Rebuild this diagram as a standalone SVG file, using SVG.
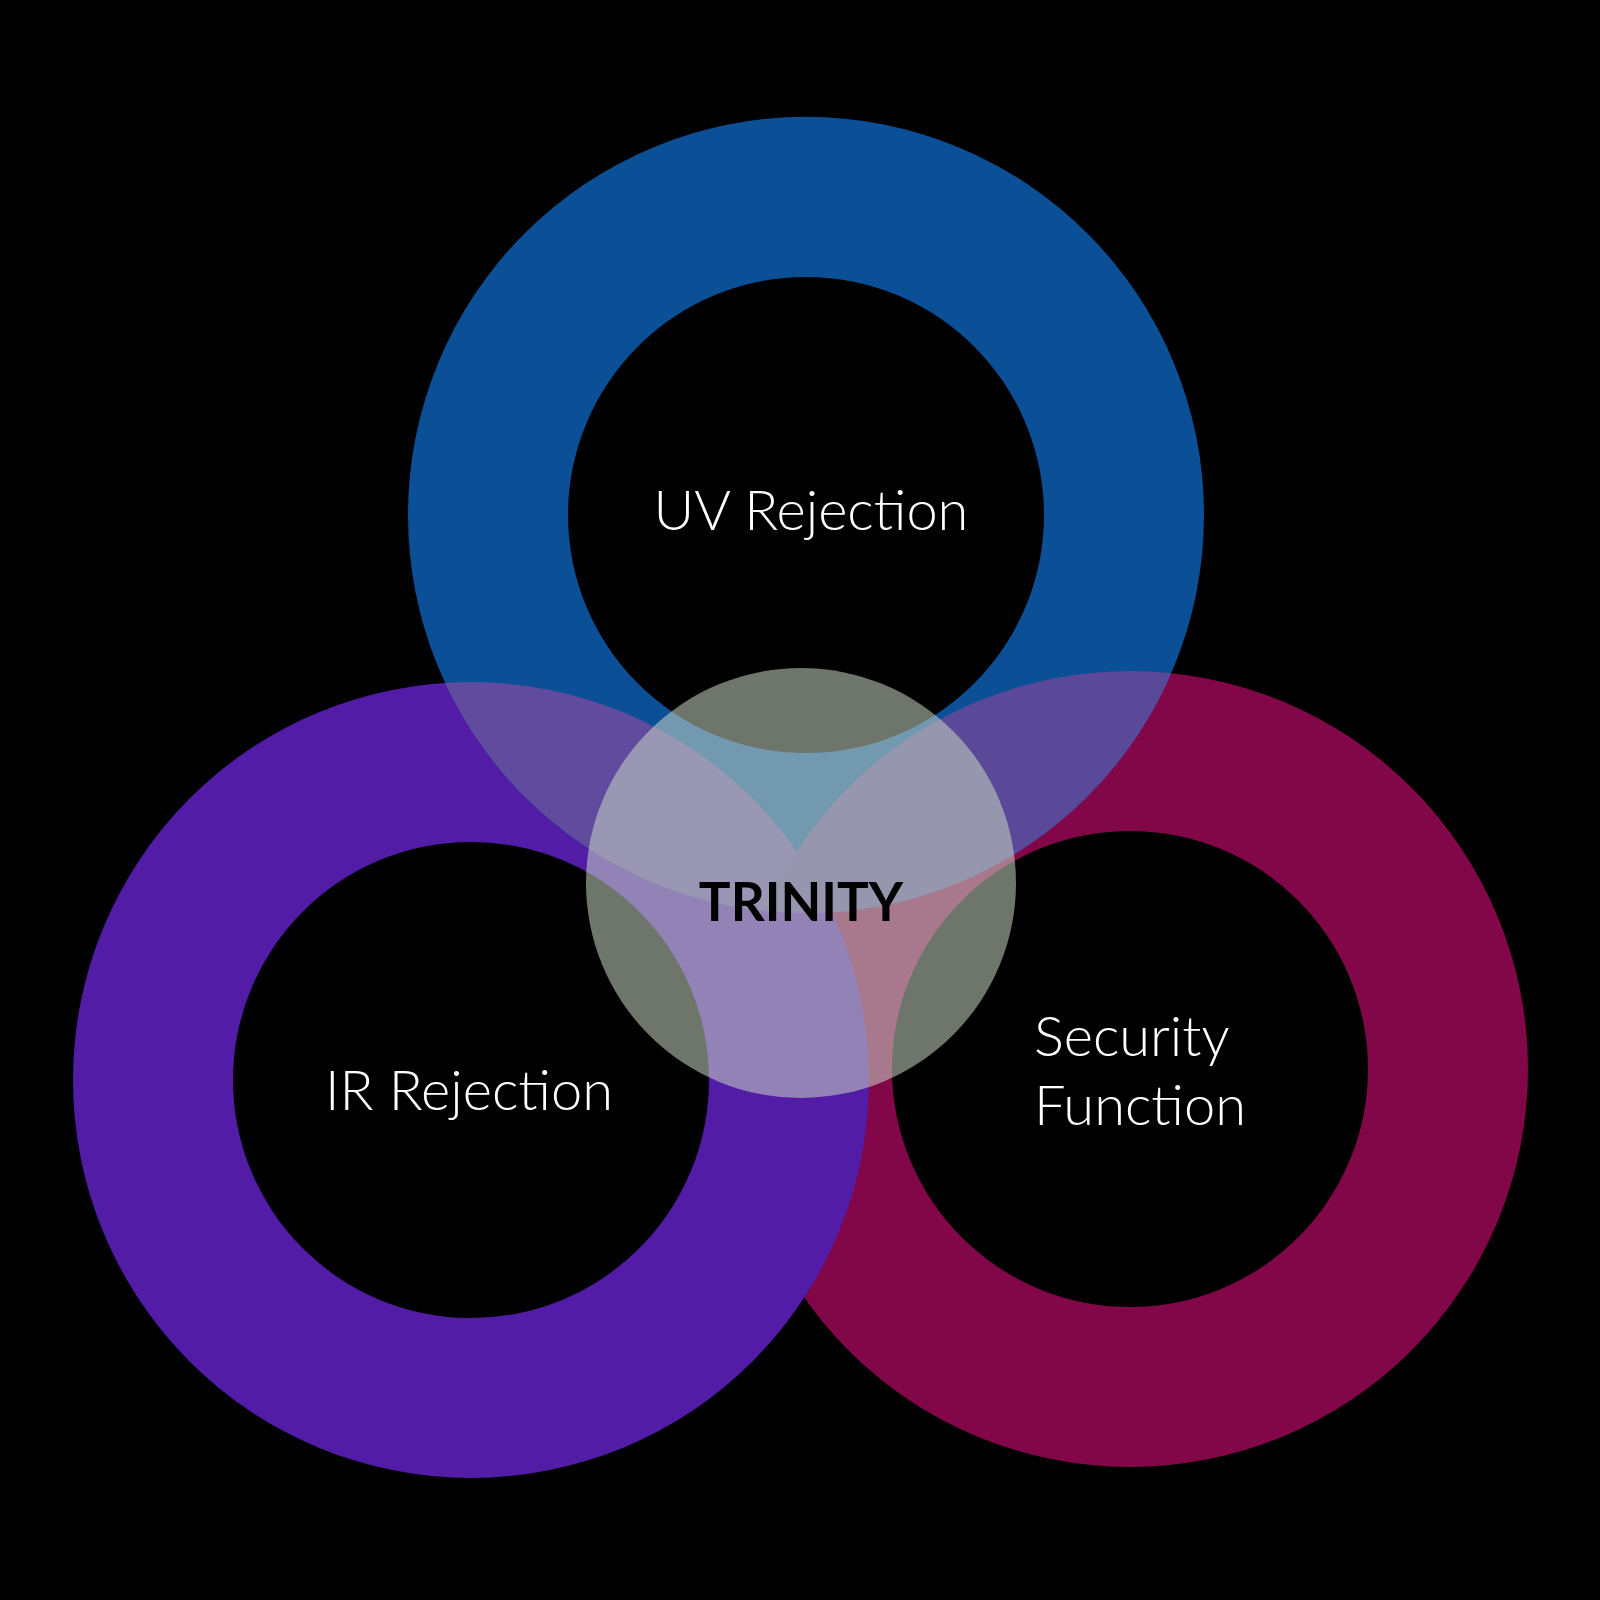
<svg xmlns="http://www.w3.org/2000/svg" width="1600" height="1600" viewBox="0 0 1600 1600">
<defs>
<style>
.lbl{font-family:Lato,"Open Sans",sans-serif;font-size:56px;fill:#ffffff;font-weight:300}
</style>
<clipPath id="cp"><path clip-rule="evenodd" d="M73 1080a398 398 0 1 0 796 0a398 398 0 1 0 -796 0ZM233 1080a238 238 0 1 0 476 0a238 238 0 1 0 -476 0Z"/></clipPath>
<clipPath id="cm"><path clip-rule="evenodd" d="M732 1069a398 398 0 1 0 796 0a398 398 0 1 0 -796 0ZM892 1069a238 238 0 1 0 476 0a238 238 0 1 0 -476 0Z"/></clipPath>
</defs>
<rect width="1600" height="1600" fill="#000"/>
<g id="security"><path fill="#820749" fill-rule="evenodd" d="M732 1069a398 398 0 1 0 796 0a398 398 0 1 0 -796 0ZM892 1069a238 238 0 1 0 476 0a238 238 0 1 0 -476 0Z"/>
<text class="lbl" x="1034" y="1056">Security</text><text class="lbl" x="1034" y="1125">Function</text></g>
<g id="ir"><path fill="#521ca6" fill-rule="evenodd" d="M73 1080a398 398 0 1 0 796 0a398 398 0 1 0 -796 0ZM233 1080a238 238 0 1 0 476 0a238 238 0 1 0 -476 0Z"/>
<text class="lbl" x="469" y="1110" text-anchor="middle">IR Rejection</text></g>
<g id="uv"><path fill="#0b4f97" fill-rule="evenodd" d="M408 515a398 398 0 1 0 796 0a398 398 0 1 0 -796 0ZM568 515a238 238 0 1 0 476 0a238 238 0 1 0 -476 0Z"/>
<path clip-path="url(#cp)" fill="#614b9f" fill-rule="evenodd" d="M408 515a398 398 0 1 0 796 0a398 398 0 1 0 -796 0ZM568 515a238 238 0 1 0 476 0a238 238 0 1 0 -476 0Z"/>
<path clip-path="url(#cm)" fill="#5a4898" fill-rule="evenodd" d="M408 515a398 398 0 1 0 796 0a398 398 0 1 0 -796 0ZM568 515a238 238 0 1 0 476 0a238 238 0 1 0 -476 0Z"/>
<text class="lbl" x="811" y="530" text-anchor="middle">UV Rejection</text></g>
<g id="trinity"><circle cx="801" cy="883" r="215" fill="#c8d7c3" fill-opacity="0.55"/>
<text x="801" y="921" text-anchor="middle" font-family="Lato,'Open Sans',sans-serif" font-size="53" font-weight="700" fill="#000">TRINITY</text></g>
</svg>
